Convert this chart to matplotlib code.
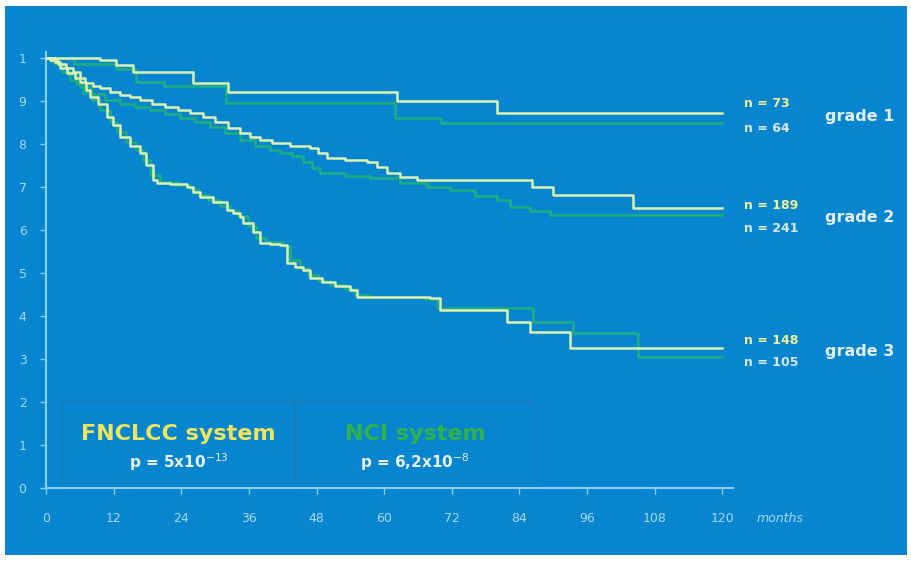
import matplotlib.pyplot as plt
from matplotlib.patches import Rectangle

# colori
BLU = '#0786cf'
COL_FN = '#dcf2b4'     # curve FNCLCC (chiare)
COL_NCI = '#20ad80'    # curve NCI (verdi)
COL_AX = '#8ccdf2'

# --- dati (mesi, sopravvivenza) ---
fn_g1_t = [0, 9.5, 12.5, 15.5, 26, 32.3, 62.3, 80, 120]
fn_g1_s = [1.0, 0.995, 0.984, 0.967, 0.942, 0.921, 0.90, 0.872, 0.872]

nci_g1_t = [0, 5, 12.5, 16, 21, 32, 62, 70, 120]
nci_g1_s = [1.0, 0.985, 0.975, 0.945, 0.935, 0.895, 0.86, 0.849, 0.849]

fn_g2_t = [0, 1.6, 2.5, 3.7, 5.1, 6.9, 8.3, 9.6, 11.4, 13.1, 14.9, 16.7, 18.8,
           21.1, 23.4, 25.6, 27.9, 30.0, 32.3, 34.4, 36.2, 38.0, 40.1, 43.3,
           46.9, 48.3, 49.9, 53.1, 57.0, 58.8, 60.5, 62.8, 65.9, 86.3, 90,
           104.2, 120]
fn_g2_s = [1.0, 0.991, 0.977, 0.965, 0.953, 0.942, 0.935, 0.930, 0.921, 0.914,
           0.909, 0.902, 0.893, 0.886, 0.879, 0.872, 0.863, 0.851, 0.837,
           0.826, 0.816, 0.809, 0.802, 0.795, 0.791, 0.779, 0.767, 0.763,
           0.758, 0.747, 0.733, 0.723, 0.716, 0.70, 0.681, 0.651, 0.651]

nci_g2_t = [0, 1.6, 2.8, 4.3, 6.0, 8.2, 10.5, 13.1, 15.8, 18.5, 21.1, 23.8,
            26.5, 29.1, 31.8, 34.4, 37.1, 39.8, 41.5, 43.7, 45.6, 47.2, 48.6,
            53.1, 57.5, 62.8, 67.6, 71.7, 76.2, 80.1, 82.4, 85.9, 89.5, 120]
nci_g2_s = [1.0, 0.986, 0.967, 0.949, 0.933, 0.916, 0.902, 0.893, 0.886, 0.879,
            0.870, 0.860, 0.851, 0.840, 0.826, 0.809, 0.795, 0.786, 0.779,
            0.772, 0.758, 0.744, 0.733, 0.726, 0.721, 0.709, 0.70, 0.693,
            0.679, 0.670, 0.653, 0.644, 0.635, 0.635]

fn_g3_t = [0, 0.7, 2.1, 3.6, 4.8, 6.0, 7.1, 7.8, 9.2, 10.8, 11.9, 13.1, 14.9,
           16.7, 17.8, 19.0, 19.7, 22.0, 25.0, 26.1, 27.3, 29.6, 32.1, 33.2,
           34.4, 35.0, 36.7, 38.0, 39.8, 41.5, 42.8, 44.2, 45.6, 46.9, 49.0,
           51.3, 54.0, 55.2, 68.2, 69.9, 81.8, 85.9, 93, 120]
fn_g3_s = [1.0, 0.995, 0.986, 0.977, 0.967, 0.944, 0.926, 0.909, 0.893, 0.863,
           0.844, 0.816, 0.795, 0.779, 0.751, 0.716, 0.709, 0.707, 0.70, 0.688,
           0.677, 0.665, 0.647, 0.64, 0.63, 0.616, 0.595, 0.57, 0.567, 0.565,
           0.523, 0.514, 0.507, 0.488, 0.479, 0.47, 0.46, 0.444, 0.442, 0.414,
           0.386, 0.363, 0.326, 0.326]

nci_g3_t = [0, 1.1, 2.5, 3.9, 5.3, 6.6, 8.2, 9.6, 11.4, 12.6, 14.2, 16.0, 17.2,
            18.5, 20.2, 23.4, 25.6, 27.0, 28.8, 30.9, 32.7, 34.1, 35.9, 37.3,
            39.1, 42.1, 43.3, 45.1, 46.5, 48.3, 50.4, 53.1, 54.9, 57.5, 67.3,
            69.4, 86.5, 93.5, 105, 120]
nci_g3_s = [1.0, 0.991, 0.979, 0.963, 0.940, 0.919, 0.902, 0.879, 0.851, 0.828,
            0.805, 0.786, 0.763, 0.728, 0.712, 0.705, 0.695, 0.681, 0.670,
            0.656, 0.644, 0.633, 0.609, 0.581, 0.572, 0.563, 0.530, 0.512,
            0.495, 0.481, 0.472, 0.463, 0.449, 0.444, 0.44, 0.419, 0.386, 0.36,
            0.305, 0.305]

x_ticks = [0, 12, 24, 36, 48, 60, 72, 84, 96, 108, 120]
y_ticks = [0, 0.1, 0.2, 0.3, 0.4, 0.5, 0.6, 0.7, 0.8, 0.9, 1.0]
y_labels = ['0', '1', '2', '3', '4', '5', '6', '7', '8', '9', '1']

W, H = 912, 561
fig = plt.figure(figsize=(W / 100, H / 100), dpi=100, facecolor='white')

# pannello blu con cornice bianca (asse di sfondo)
bg = fig.add_axes([5 / W, 6 / H, 902 / W, 549 / H], zorder=-1)
bg.set_facecolor(BLU)
bg.set_xticks([])
bg.set_yticks([])
for sp in bg.spines.values():
    sp.set_visible(False)

ax = fig.add_axes([46 / W, (H - 488) / H, (733 - 46) / W, (488 - 52) / H])
ax.set_facecolor('none')
ax.set_xlim(0, 121.9)
ax.set_ylim(0, 1.014)

# curve NCI sotto, FNCLCC sopra
for t, s in [(nci_g1_t, nci_g1_s), (nci_g2_t, nci_g2_s), (nci_g3_t, nci_g3_s)]:
    ax.plot(t, s, drawstyle='steps-post', color=COL_NCI, lw=1.8, zorder=3)
for t, s in [(fn_g1_t, fn_g1_s), (fn_g2_t, fn_g2_s), (fn_g3_t, fn_g3_s)]:
    ax.plot(t, s, drawstyle='steps-post', color=COL_FN, lw=1.8, zorder=4)

for side in ['top', 'right']:
    ax.spines[side].set_visible(False)
for side in ['left', 'bottom']:
    ax.spines[side].set_color(COL_AX)
    ax.spines[side].set_linewidth(1.5)

ax.set_xticks(x_ticks)
ax.set_xticklabels([str(v) for v in x_ticks])
ax.set_yticks(y_ticks)
ax.set_yticklabels(y_labels)
ax.tick_params(colors=COL_AX, labelcolor='#a9d8f5', labelsize=9, length=4,
               width=1)
ax.tick_params(axis='x', pad=13)
ax.tick_params(axis='y', pad=10)

ax.text(126, -0.072, 'months', color='#a9d8f5', fontsize=9, style='italic',
        ha='left', va='center', clip_on=False)

# riquadri legenda
for x0, x1 in [(2.8, 44.2), (44.2, 86.5)]:
    ax.add_patch(Rectangle((x0, 0.012), x1 - x0, 0.19, facecolor='none',
                           edgecolor='#1a78b8', lw=1, zorder=2))
ax.text(23.5, 0.125, 'FNCLCC system', color='#f0e45a', fontsize=16,
        fontweight='bold', ha='center', va='center')
ax.text(23.5, 0.06, r'p = 5x10$^{-13}$', color='#e8f0f8', fontsize=11,
        fontweight='bold', ha='center', va='center')
ax.text(65.5, 0.125, 'NCI system', color='#2fb24a', fontsize=16,
        fontweight='bold', ha='center', va='center')
ax.text(65.5, 0.06, r'p = 6,2x10$^{-8}$', color='#e8f0f8', fontsize=11,
        fontweight='bold', ha='center', va='center')

# etichette a destra
lab = dict(fontsize=9, fontweight='bold', ha='left', va='center',
           clip_on=False)
ax.text(123.8, 0.895, 'n = 73', color='#eef09a', **lab)
ax.text(123.8, 0.835, 'n = 64', color='#d8e8f0', **lab)
ax.text(123.8, 0.657, 'n = 189', color='#eef09a', **lab)
ax.text(123.8, 0.603, 'n = 241', color='#d8e8f0', **lab)
ax.text(123.8, 0.343, 'n = 148', color='#eef09a', **lab)
ax.text(123.8, 0.292, 'n = 105', color='#d8e8f0', **lab)
g = dict(fontsize=11.5, fontweight='bold', color='#e4eef8', ha='left',
         va='center', clip_on=False)
ax.text(138.2, 0.865, 'grade 1', **g)
ax.text(138.2, 0.63, 'grade 2', **g)
ax.text(138.2, 0.318, 'grade 3', **g)

fig.savefig('out.png', dpi=100, facecolor='white')
